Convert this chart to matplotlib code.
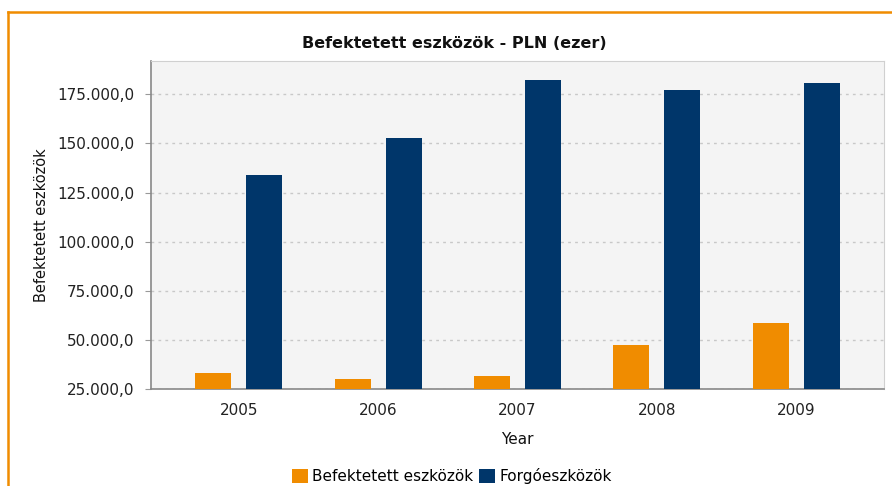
import numpy as np
import matplotlib
matplotlib.use("Agg")
import matplotlib.pyplot as plt
from matplotlib.lines import Line2D
from matplotlib.patches import Patch

# data
years = ["2005", "2006", "2007", "2008", "2009"]
befektetett = [33000, 30100, 31800, 47400, 58800]
forgo = [134000, 152800, 182400, 177200, 181000]
series_names = ["Befektetett eszközök", "Forgóeszközök"]
yticks = [25000, 50000, 75000, 100000, 125000, 150000, 175000]

ORANGE = "#F08C00"
BLUE = "#00366A"

W, H = 892, 486
fig = plt.figure(figsize=(W / 100, H / 100), dpi=100)
fig.patch.set_facecolor("white")

# plot area in pixels: left 151, right 884, top 61, bottom 389
ax = fig.add_axes([151 / W, 1 - 389 / H, (884 - 151) / W, (389 - 61) / H])
ax.set_facecolor("#F4F4F4")

x = np.arange(len(years))
bw = 0.26
off = 0.183
ax.bar(x - off, befektetett, bw, color=ORANGE, zorder=3)
ax.bar(x + off, forgo, bw, color=BLUE, zorder=3)

ax.set_xlim(-0.63, 4.63)
ax.set_ylim(25000, 192000)
ax.set_yticks(yticks)
ax.set_yticklabels([f"{v:,.1f}".replace(",", " ").replace(".", ",").replace(" ", ".") for v in yticks])
ax.set_xticks(x)
ax.set_xticklabels(years)

ax.yaxis.grid(True, color="#C8C8C8", linestyle=(0, (2, 3)), linewidth=1, zorder=0)
ax.tick_params(axis="y", length=4, color="#999999", labelsize=11, labelcolor="#222222", pad=8)
ax.tick_params(axis="x", length=0, labelsize=11, labelcolor="#222222", pad=10)
for sp in ["top", "right"]:
    ax.spines[sp].set_color("#D0D0D0")
for sp in ["left", "bottom"]:
    ax.spines[sp].set_color("#888888")
    ax.spines[sp].set_linewidth(1.2)

ax.set_ylabel("Befektetett eszközök", fontsize=10.5, color="#111111", labelpad=6)
ax.set_xlabel("Year", fontsize=11, color="#111111", labelpad=10)

fig.text(454 / W, 1 - 43 / H, "Befektetett eszközök - PLN (ezer)",
         ha="center", va="center", fontsize=11.5, fontweight="bold",
         family=["Liberation Sans Narrow", "DejaVu Sans"], color="#111111")

handles = [Patch(facecolor=ORANGE), Patch(facecolor=BLUE)]
fig.legend(handles, series_names, loc="center", bbox_to_anchor=(452 / W, 1 - 476 / H),
           ncol=2, frameon=False, fontsize=11, handlelength=1.0, handleheight=1.0,
           handletextpad=0.3, columnspacing=0.4)

# orange frame
fig.add_artist(Line2D([8 / W, 1], [1 - 12.5 / H, 1 - 12.5 / H], color=ORANGE, linewidth=1.8))
fig.add_artist(Line2D([8 / W, 8 / W], [0, 1 - 12.5 / H], color=ORANGE, linewidth=1.8))

fig.savefig("out.png", dpi=100)
